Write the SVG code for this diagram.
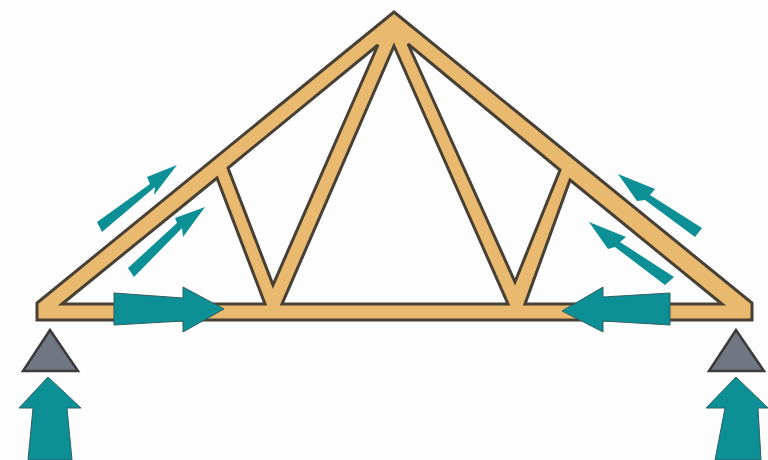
<svg xmlns="http://www.w3.org/2000/svg" width="768" height="460" viewBox="0 0 768 460">
<defs>
<style>
.truss{fill:#e8b96e;stroke:#473f36;stroke-width:3;stroke-linejoin:miter}
.hole{fill:#fdfdfd;stroke:#473f36;stroke-width:3;stroke-linejoin:miter}
.force{fill:#0b8f96}
.outlined{stroke:#2f5f62;stroke-width:1}
.support{fill:#6f7782;stroke:#3b3a3a;stroke-width:2.5;stroke-linejoin:miter}
</style>
<filter id="soft" x="-2%" y="-2%" width="104%" height="104%"><feGaussianBlur stdDeviation="0.6"/></filter>
</defs>
<rect width="768" height="460" fill="#fdfdfd"/>
<g filter="url(#soft)">
<g id="truss">
<polygon class="truss" points="394,12 752,303 752,320 37,320 37,303"/>
<polygon class="hole" points="62,304 217,178 265,304"/>
<polygon class="hole" points="228,168 378,45 273,285"/>
<polygon class="hole" points="394,46 508,304 282,304"/>
<polygon class="hole" points="408,44 560,170 515,282"/>
<polygon class="hole" points="570,180 722,304 525,304"/>
</g>
<g id="supports">
<polygon id="support-left" class="support" points="50,330 23,371 78,371"/>
<polygon id="support-right" class="support" points="736,330 709,371 764,371"/>
</g>
<g id="forces">
<polygon id="reaction-left" class="force outlined" points="48,377 19,408 33,408 28,460 72,460 67,408 81,408"/>
<polygon id="reaction-right" class="force outlined" points="736,377 706,408 725,408 715,460 761,460 758,408 768,408"/>
<polygon id="tie-left" class="force outlined" points="114,293 183,298 183,287 224,309 183,332 183,321 114,325"/>
<polygon id="tie-right" class="force outlined" points="670,293 603,297 603,287 562,311 603,332 603,321 670,325"/>
<polygon id="rafter-left-upper" class="force" points="97,222 150,184 147,177 177,165 154,195 155,187 102,232"/>
<polygon id="rafter-left-lower" class="force" points="128,268 177,223 175,218 205,207 183,237 182,228 134,277"/>
<polygon id="rafter-right-upper" class="force" points="702,228 650,195 655,189 618,174 637,201 645,200 695,237"/>
<polygon id="rafter-right-lower" class="force" points="674,277 620,242 626,237 589,222 608,249 615,247 665,285"/>
</g>
</g>
</svg>
